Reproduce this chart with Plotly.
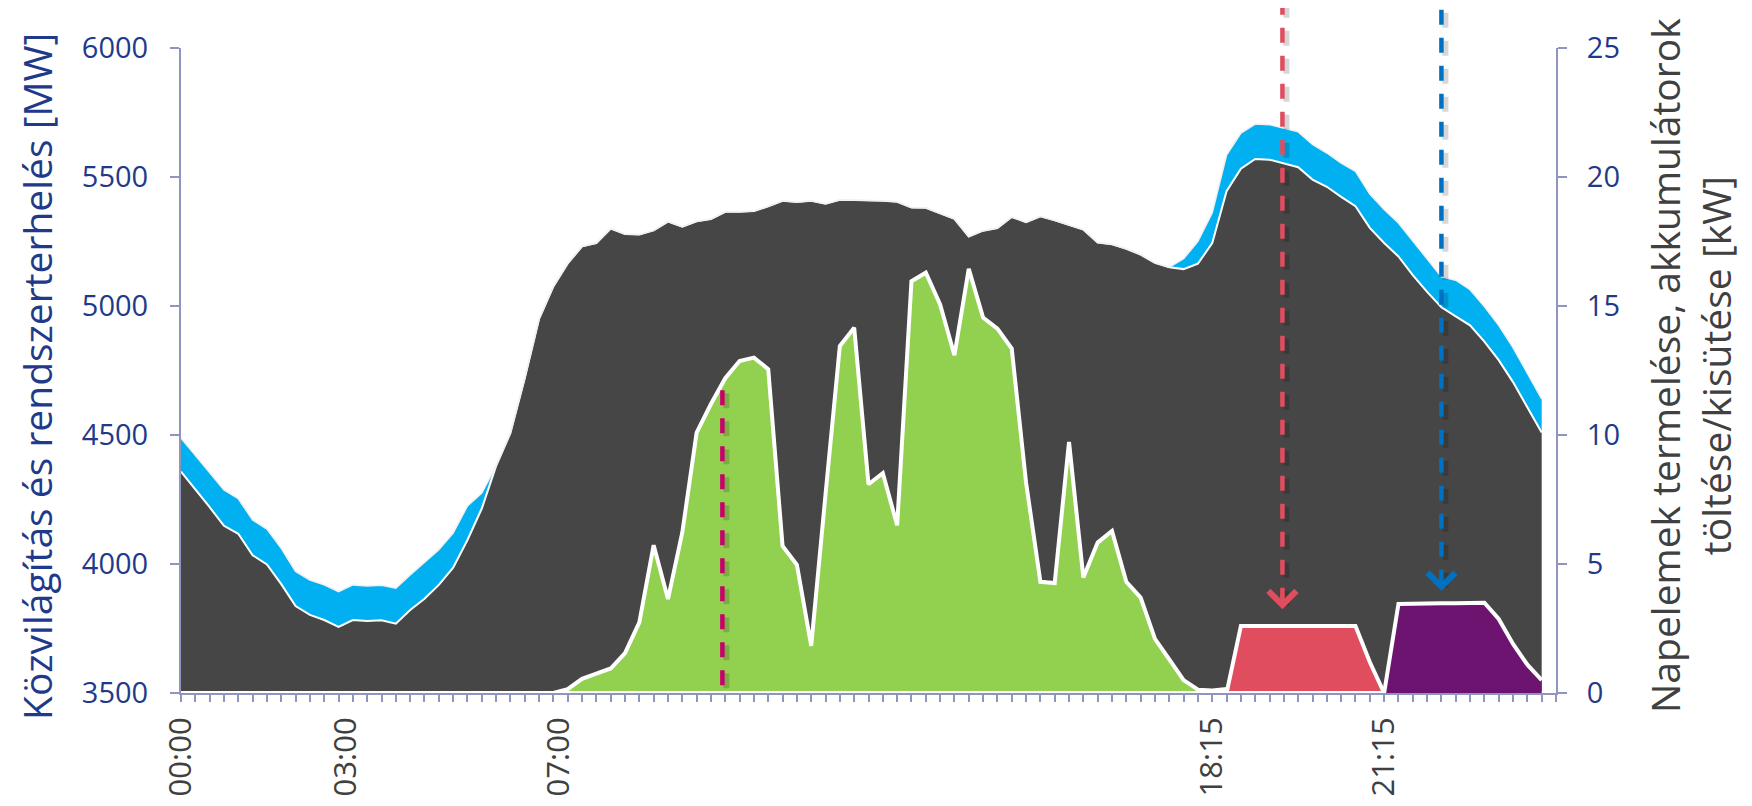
import plotly.graph_objects as go

# ---------------- data (15-minute slots of one day) ----------------
slots = list(range(96))
tick_pos = [0, 11.5, 26.4, 72, 84]
tick_text = ["00:00", "03:00", "07:00", "18:15", "21:15"]

# system load [MW] (left axis)
load_mw = [4358, 4290, 4220, 4148, 4117, 4034, 3998, 3922, 3837, 3803,
           3783, 3756, 3783, 3779, 3782, 3769, 3822, 3865, 3919, 3986,
           4093, 4215, 4380, 4508, 4720, 4950, 5076, 5165, 5231, 5244,
           5300, 5279, 5277, 5293, 5327, 5307, 5328, 5337, 5365, 5365,
           5368, 5386, 5408, 5403, 5408, 5396, 5412, 5411, 5410, 5408,
           5404, 5382, 5381, 5360, 5338, 5269, 5292, 5302, 5345, 5325,
           5348, 5332, 5315, 5296, 5246, 5239, 5222, 5199, 5167, 5150,
           5143, 5164, 5244, 5445, 5532, 5570, 5567, 5552, 5538, 5490,
           5462, 5423, 5387, 5303, 5244, 5192, 5120, 5055, 4995, 4960,
           4925, 4862, 4790, 4705, 4610, 4510]

# public lighting [MW] (stacked on the load)
lighting_mw = ([130, 131, 132, 139, 136, 137, 137, 139, 134, 135,
                136, 137, 136, 136, 136, 137, 136, 142, 136, 134,
                132, 60] + [0] * 47 +
               [0, 40, 87, 117, 140, 138, 135, 136, 138, 137,
                136, 131, 131, 135, 131, 130, 130, 132, 130, 118,
                140, 138, 136, 135, 134, 132, 130])

# solar production [kW] (right axis)
solar_kw = ([0] * 26 +
            [0.0, 0.15, 0.55, 0.75, 0.95, 1.55, 2.74, 5.73, 3.64, 6.22,
             10.09, 11.2, 12.2, 12.87, 13.0, 12.55, 5.7, 4.97, 1.83, 7.7,
             13.45, 14.16, 8.09, 8.52, 6.5, 15.96, 16.29, 15.06, 13.09, 16.44,
             14.55, 14.12, 13.35, 8.16, 4.31, 4.26, 9.73, 4.48, 5.83, 6.28,
             4.31, 3.7, 2.1, 1.3, 0.5, 0.13, 0.1, 0.15] +
            [0] * 22)

# battery charging [kW]
charge_kw = [0] * 74 + [2.6] * 9 + [1.2] + [0] * 12

# battery discharging [kW]
discharge_kw = [0] * 85 + [3.45, 3.47, 3.48, 3.48, 3.48, 3.48, 3.5, 2.87, 1.9, 1.1, 0.5]

# event markers (slot index, kW level of arrow tip / line top)
solar_mark_slot, solar_mark_top_kw, solar_mark_bottom_kw = 37.8, 11.8, 0.3
charge_mark_slot, charge_mark_tip_kw = 76.9, 3.25
discharge_mark_slot, discharge_mark_tip_kw = 88.0, 3.95

# ---------------- styling ----------------
X_MAX = 96
Y2_MAX = 25
W, H = 1752, 806
BODY = 8                      # default page margin around the plot div
PL, PT, PR, PB = 181, 48, 1556, 693   # wanted plot-area edges in the window
ML, MT = PL - BODY, PT - BODY
MR = W + BODY - PR
MB = H + BODY - PB
PLOT_W = PR - PL
PLOT_H = PB - PT

GREY = "#464646"
BLUE = "#00B0F0"
GREEN = "#92D050"
RED = "#E04D5E"
PURPLE = "#6D1470"
MAGENTA = "#C8006A"
DBLUE = "#0070C0"
AXIS = "#8E96C0"
TICKBLUE = "#1F3A8A"
FONT = "Open Sans"

top_mw = [l + s for l, s in zip(load_mw, lighting_mw)]

fig = go.Figure()
fig.add_trace(go.Scatter(x=slots, y=load_mw, mode="lines", fill="tozeroy",
                         fillcolor=GREY, line=dict(color="white", width=2),
                         name="Rendszerterhelés", yaxis="y"))
fig.add_trace(go.Scatter(x=slots, y=top_mw, mode="lines", fill="tonexty",
                         fillcolor=BLUE, line=dict(color="#F0F0F0", width=1.5),
                         name="Közvilágítás", yaxis="y"))
fig.add_trace(go.Scatter(x=slots, y=solar_kw, mode="lines", fill="tozeroy",
                         fillcolor=GREEN, line=dict(color="white", width=4),
                         name="Napelemek", yaxis="y2"))
fig.add_trace(go.Scatter(x=slots, y=charge_kw, mode="lines", fill="tozeroy",
                         fillcolor=RED, line=dict(color="white", width=4),
                         name="Töltés", yaxis="y2"))
fig.add_trace(go.Scatter(x=slots, y=discharge_kw, mode="lines", fill="tozeroy",
                         fillcolor=PURPLE, line=dict(color="white", width=4),
                         name="Kisütés", yaxis="y2"))


def xp(slot):
    return slot / X_MAX


def yp_kw(kw):
    return kw / Y2_MAX


def px_x(px):
    return (px - PL) / PLOT_W


def px_y(px):
    return (PB - px) / PLOT_H


TOP = px_y(0)   # top edge of the window in paper units
DASH = "15px,13px"
sx, sy = 4 / PLOT_W, 3 / PLOT_H  # shadow offset

shapes = []
for slot, y0, y1, col in [
    (charge_mark_slot, yp_kw(charge_mark_tip_kw) + 0.01, TOP, RED),
    (discharge_mark_slot, yp_kw(discharge_mark_tip_kw) + 0.01, TOP, DBLUE),
    (solar_mark_slot, yp_kw(solar_mark_bottom_kw), yp_kw(solar_mark_top_kw), MAGENTA),
]:
    shapes.append(dict(type="line", xref="paper", yref="paper",
                       x0=xp(slot) + sx, x1=xp(slot) + sx, y0=y0 - sy, y1=y1 - sy,
                       line=dict(color="rgba(0,0,0,0.16)", width=6, dash=DASH)))
    shapes.append(dict(type="line", xref="paper", yref="paper",
                       x0=xp(slot), x1=xp(slot), y0=y0, y1=y1,
                       line=dict(color=col, width=4.5, dash=DASH)))

# remnant of a callout box at the top edge
shapes.append(dict(type="line", xref="paper", yref="paper",
                   x0=px_x(1337), x1=px_x(1564), y0=px_y(1.5), y1=px_y(1.5),
                   line=dict(color="#E4E4E4", width=2)))

annotations = [
    dict(xref="x", yref="y2", x=charge_mark_slot, y=charge_mark_tip_kw,
         ax=0, ay=-18, text="", showarrow=True, arrowhead=4, arrowsize=1.5,
         arrowwidth=3.6, arrowcolor=RED),
    dict(xref="x", yref="y2", x=discharge_mark_slot, y=discharge_mark_tip_kw,
         ax=0, ay=-18, text="", showarrow=True, arrowhead=4, arrowsize=1.5,
         arrowwidth=3.6, arrowcolor=DBLUE),
    dict(xref="paper", yref="paper", x=px_x(36), y=px_y(377),
         text="Közvilágítás és rendszerterhelés [MW]", textangle=-90,
         showarrow=False, xanchor="center", yanchor="middle",
         font=dict(family=FONT, size=39, color="#1F3A8A")),
    dict(xref="paper", yref="paper", x=px_x(1690), y=px_y(366),
         text="Napelemek termelése, akkumulátorok<br>töltése/kisütése [kW]",
         textangle=-90, showarrow=False, xanchor="center", yanchor="middle",
         align="center",
         font=dict(family=FONT, size=39, color="#404040")),
]

fig.update_layout(
    width=W, height=H,
    margin=dict(l=ML, r=MR, t=MT, b=MB, pad=0, autoexpand=False),
    paper_bgcolor="white", plot_bgcolor="white",
    showlegend=False,
    font=dict(family=FONT),
    shapes=shapes,
    annotations=annotations,
    xaxis=dict(range=[0, X_MAX], tickmode="array", tickvals=tick_pos, ticktext=tick_text,
               tickangle=-90, ticks="outside", ticklen=7, tickcolor="rgba(0,0,0,0)",
               tickfont=dict(family=FONT, size=31, color="#404040"),
               minor=dict(dtick=1, tick0=0, ticks="outside", ticklen=7,
                          tickcolor=AXIS, tickwidth=1.5, showgrid=False),
               showline=True, linecolor=AXIS, linewidth=2, automargin=False,
               showgrid=False, zeroline=False, ticklabelstandoff=3),
    yaxis=dict(range=[3500, 6000], tick0=3500, dtick=500, ticks="outside",
               ticklen=9, tickcolor=AXIS, tickwidth=2, automargin=False,
               tickfont=dict(family=FONT, size=29, color=TICKBLUE),
               showline=True, linecolor=AXIS, linewidth=2,
               showgrid=False, zeroline=False, ticklabelstandoff=16),
    yaxis2=dict(range=[0, Y2_MAX], tick0=0, dtick=5, overlaying="y", side="right",
                ticks="outside", ticklen=9, tickcolor=AXIS, tickwidth=2, automargin=False,
                tickfont=dict(family=FONT, size=29, color=TICKBLUE),
                showline=True, linecolor=AXIS, linewidth=2,
                showgrid=False, zeroline=False, ticklabelstandoff=14),
)

fig.write_html("out.html")
